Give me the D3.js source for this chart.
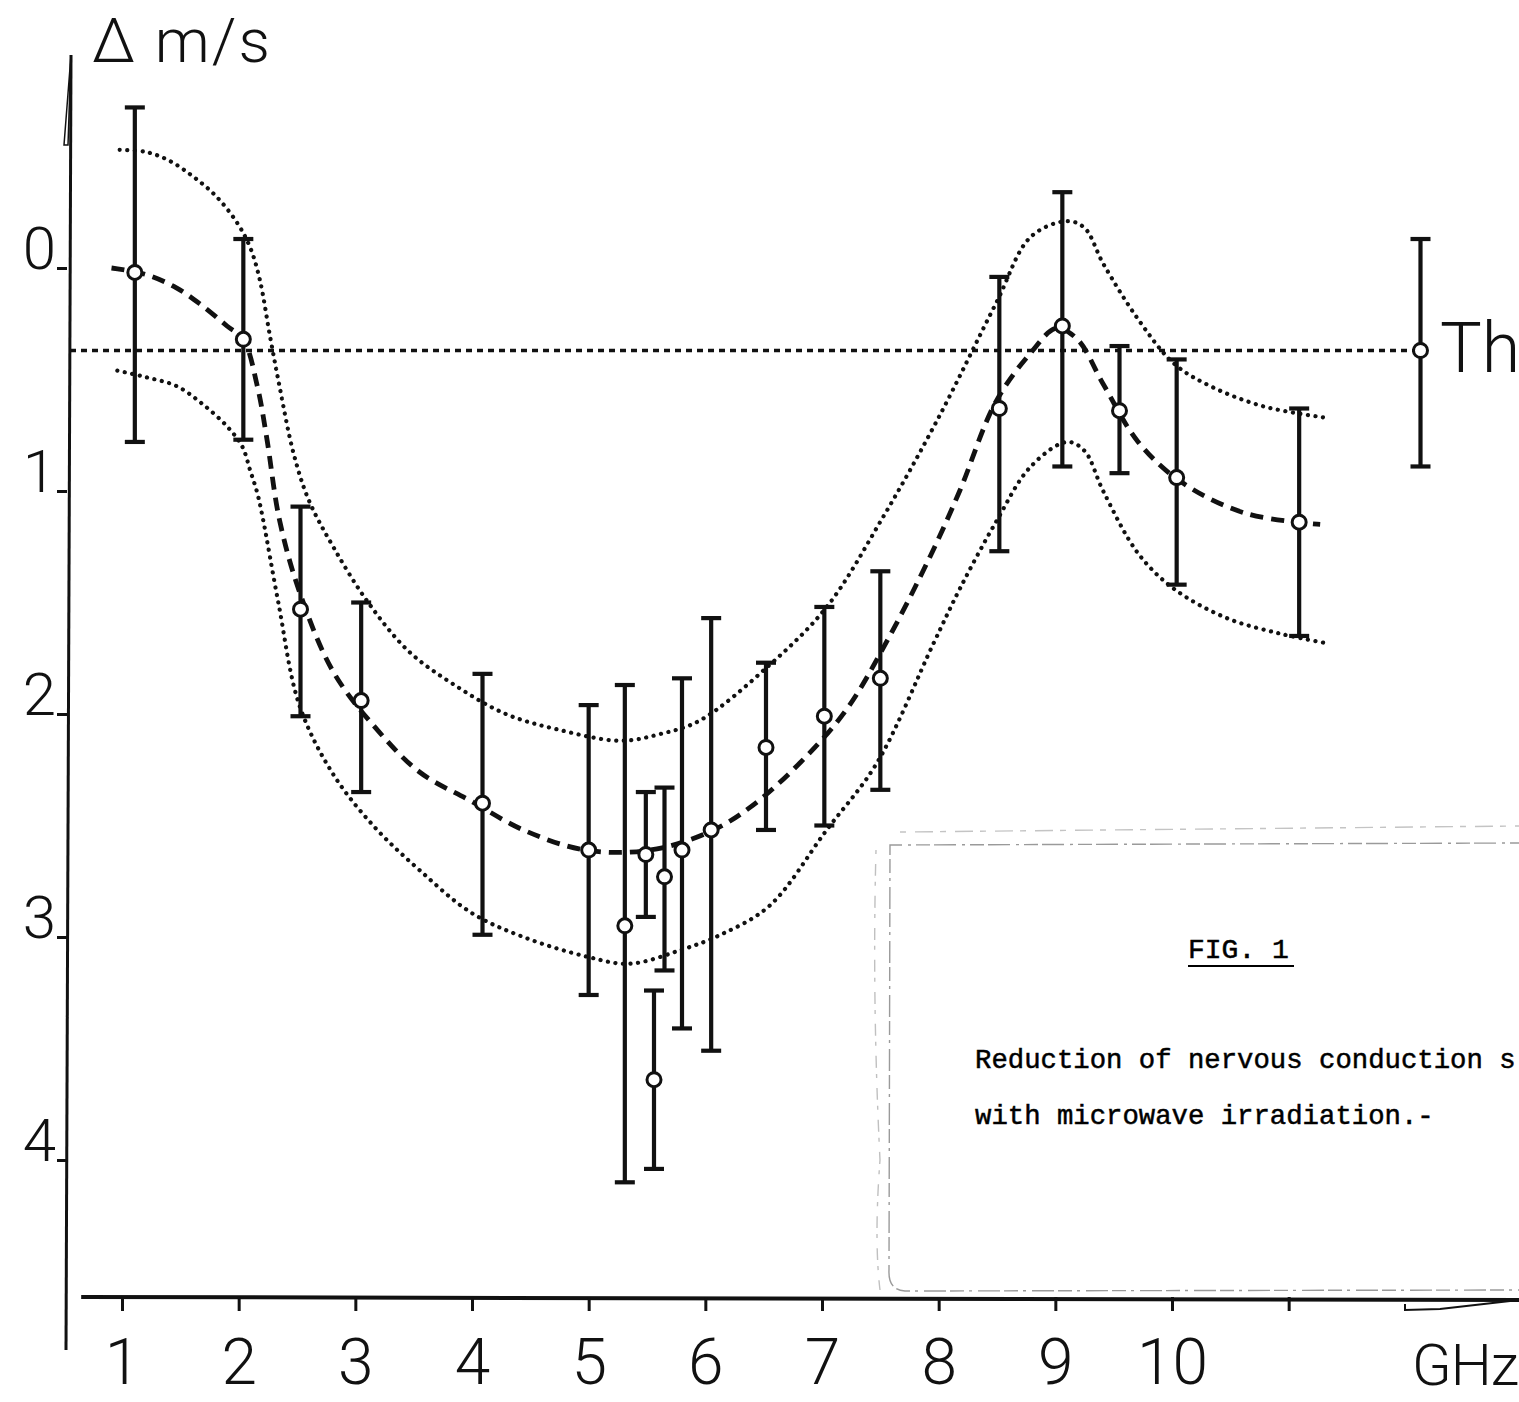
<!DOCTYPE html>
<html>
<head>
<meta charset="utf-8">
<script src="https://cdn.jsdelivr.net/npm/d3@7"></script>
<style>
  body { margin: 0; background: #fff; }
  svg { display: block; }
</style>
</head>
<body>
<div id="chart"></div>
<script>
const WIDTH = 1519
const HEIGHT = 1402

// measured points: frequency (GHz), mean change (m/s), bar ends
const freq = [1.11, 2.04, 2.53, 3.05, 4.09, 5.00, 5.31, 5.49, 5.56, 5.65, 5.80, 6.05, 6.52, 7.02, 7.50, 8.52, 9.06, 9.55, 10.04, 11.09]
const delta = [0.02, 0.32, 1.53, 1.94, 2.40, 2.61, 2.95, 2.63, 3.64, 2.73, 2.61, 2.52, 2.15, 2.01, 1.84, 0.63, 0.26, 0.64, 0.94, 1.14]
const errTop = [-0.72, -0.13, 1.07, 1.50, 1.82, 1.96, 1.87, 2.35, 3.24, 2.33, 1.84, 1.57, 1.77, 1.52, 1.36, 0.04, -0.34, 0.35, 0.41, 0.63]
const errBottom = [0.78, 0.77, 2.01, 2.35, 2.99, 3.26, 4.10, 2.91, 4.04, 3.15, 3.41, 3.51, 2.52, 2.50, 2.34, 1.27, 0.89, 0.92, 1.42, 1.65]

// threshold point and level
const thFreq = 12.13
const thDelta = 0.37
const thTop = -0.13
const thBottom = 0.89
const thLevel = 0.37

// hand drawn curves
const meanCurveX = [0.91, 1.21, 1.47, 1.69, 1.90, 2.04, 2.16, 2.24, 2.35, 2.52, 2.81, 3.17, 3.55, 3.99, 4.44, 4.97, 5.53, 6.03, 6.38, 6.81, 7.21, 7.56, 7.93, 8.18, 8.49, 8.79, 9.01, 9.19, 9.41, 9.71, 10.08, 10.63, 11.27]
const meanCurveY = [0.00, 0.03, 0.09, 0.17, 0.26, 0.32, 0.53, 0.76, 1.13, 1.45, 1.81, 2.06, 2.26, 2.39, 2.52, 2.61, 2.61, 2.53, 2.42, 2.22, 1.98, 1.67, 1.29, 1.00, 0.60, 0.38, 0.27, 0.32, 0.52, 0.78, 0.96, 1.10, 1.15]

const upperCurveX = [0.98, 1.21, 1.41, 1.61, 1.81, 1.99, 2.10, 2.18, 2.27, 2.35, 2.47, 2.60, 2.81, 3.11, 3.46, 3.85, 4.29, 4.74, 5.27, 5.61, 5.95, 6.53, 7.04, 7.52, 7.99, 8.49, 8.79, 9.10, 9.25, 9.41, 9.71, 10.02, 10.33, 10.78, 11.30]
const upperCurveY = [-0.53, -0.52, -0.48, -0.41, -0.32, -0.20, -0.09, 0.05, 0.31, 0.53, 0.83, 1.04, 1.25, 1.50, 1.72, 1.87, 2.00, 2.07, 2.12, 2.09, 2.03, 1.79, 1.52, 1.12, 0.68, 0.16, -0.14, -0.21, -0.18, -0.02, 0.23, 0.43, 0.53, 0.62, 0.67]

const lowerCurveX = [0.96, 1.21, 1.47, 1.69, 1.90, 2.03, 2.10, 2.16, 2.21, 2.34, 2.52, 2.81, 3.17, 3.55, 3.99, 4.44, 5.00, 5.35, 5.78, 6.13, 6.55, 7.04, 7.47, 7.95, 8.18, 8.49, 8.79, 9.10, 9.25, 9.41, 9.71, 10.02, 10.47, 10.93, 11.30]
const lowerCurveY = [0.46, 0.49, 0.53, 0.61, 0.71, 0.80, 0.91, 1.01, 1.13, 1.50, 1.96, 2.27, 2.51, 2.70, 2.89, 3.00, 3.09, 3.12, 3.06, 2.99, 2.86, 2.52, 2.22, 1.69, 1.44, 1.14, 0.89, 0.78, 0.82, 1.00, 1.28, 1.44, 1.57, 1.64, 1.68]

// axes
const xTicks = [1, 2, 3, 4, 5, 6, 7, 8, 9, 10, 11]
const xTickLabels = ['1', '2', '3', '4', '5', '6', '7', '8', '9', '10', '']
const yTicks = [0, 1, 2, 3, 4]

const captionTitle = 'FIG. 1'
const captionLines = ['Reduction of nervous conduction s', 'with microwave irradiation.-']

const INK = '#111'
const LABEL_FONT = 'Roboto, "DejaVu Sans", sans-serif'
const TYPE_FONT = '"Liberation Mono", "DejaVu Sans Mono", monospace'

const chart = () => {
    const svg = d3.select('#chart')
        .append('svg')
        .attr('width', WIDTH)
        .attr('height', HEIGHT)
        .style('background', '#fff')

    const xScale = d3.scaleLinear().domain([1, 10]).range([122, 1172])
    const yScale = d3.scaleLinear().domain([0, 4]).range([268, 1160])

    const axisY = 1297
    const axisX = 67

    // pasted caption slip
    const slip = svg.append('g')
        .attr('fill', 'none')
        .attr('stroke', '#9a9a9a')
        .attr('stroke-width', 1.4)
    slip.append('path')
        .attr('d', `M${WIDTH + 5},843 L890,845 L889,1270 Q888,1290 905,1291 L${WIDTH + 5},1290`)
        .attr('stroke-dasharray', '14 5 3 6 22 4')
    slip.append('path')
        .attr('d', `M900,832 L${WIDTH},826`)
        .attr('stroke', '#c4c4c4')
        .attr('stroke-dasharray', '6 9 18 7')
    slip.append('path')
        .attr('d', `M876,850 Q872,1000 880,1160 Q874,1240 880,1290`)
        .attr('stroke', '#c0c0c0')
        .attr('stroke-dasharray', '4 10 12 6')
    slip.append('path')
        .attr('d', `M1405,1304 L1405,1310 L1440,1309 L${WIDTH},1300`)
        .attr('stroke', INK)
        .attr('stroke-width', 2)

    const caption = svg.append('g')
        .attr('font-family', TYPE_FONT)
        .attr('fill', '#000')
        .attr('stroke', '#000')
        .attr('stroke-width', 0.5)
    caption.append('text')
        .attr('x', 1188)
        .attr('y', 958)
        .attr('font-size', 28)
        .text(captionTitle)
    caption.append('line')
        .attr('x1', 1188)
        .attr('x2', 1294)
        .attr('y1', 966)
        .attr('y2', 966)
        .attr('stroke-width', 1.8)
    caption.selectAll('.capline')
        .data(captionLines)
        .join('text')
        .attr('class', 'capline')
        .attr('x', 975)
        .attr('y', (d, i) => 1068 + i * 56)
        .attr('font-size', 27.3)
        .text(d => d)

    // x axis
    svg.append('line')
        .attr('x1', xScale(0.65))
        .attr('x2', WIDTH)
        .attr('y1', axisY)
        .attr('y2', axisY + 3)
        .attr('stroke', INK)
        .attr('stroke-width', 4)

    const xAxis = svg.append('g')
        .attr('transform', `translate(0, ${axisY})`)
        .call(d3.axisBottom(xScale)
            .tickValues(xTicks)
            .tickFormat((d, i) => xTickLabels[i])
            .tickSize(14)
            .tickPadding(28))
    xAxis.select('.domain').remove()
    xAxis.selectAll('.tick line')
        .attr('stroke', INK)
        .attr('stroke-width', 3)
    xAxis.selectAll('.tick text')
        .attr('fill', INK)
        .attr('font-family', LABEL_FONT)
        .attr('font-weight', 300)
        .attr('font-size', 64)

    svg.append('text')
        .attr('x', 1412)
        .attr('y', 1385)
        .attr('fill', INK)
        .attr('font-family', LABEL_FONT)
        .attr('font-weight', 300)
        .attr('font-size', 58)
        .attr('letter-spacing', -1)
        .text('GHz')

    // y axis
    svg.append('line')
        .attr('x1', axisX + 4)
        .attr('x2', axisX - 1)
        .attr('y1', 55)
        .attr('y2', 1350)
        .attr('stroke', INK)
        .attr('stroke-width', 3)
    svg.append('path')
        .attr('d', `M${axisX + 4},55 L${axisX + 1},145 L${axisX - 3},145 Z`)
        .attr('fill', 'none')
        .attr('stroke', INK)
        .attr('stroke-width', 1.5)

    const yAxis = svg.append('g')
        .attr('transform', `translate(${axisX}, 0)`)
        .call(d3.axisLeft(yScale)
            .tickValues(yTicks)
            .tickFormat(d3.format('d'))
            .tickSize(10)
            .tickPadding(1))
    yAxis.select('.domain').remove()
    yAxis.selectAll('.tick line')
        .attr('stroke', INK)
        .attr('stroke-width', 3)
    yAxis.selectAll('.tick text')
        .attr('fill', INK)
        .attr('dy', '0')
        .attr('font-family', LABEL_FONT)
        .attr('font-weight', 300)
        .attr('font-size', 60)

    svg.append('text')
        .attr('x', 92)
        .attr('y', 62)
        .attr('fill', INK)
        .attr('font-family', LABEL_FONT)
        .attr('font-weight', 300)
        .attr('font-size', 62)
        .attr('textLength', 178)
        .attr('lengthAdjust', 'spacing')
        .text('\u0394 m/s')

    // threshold level
    svg.append('line')
        .attr('x1', axisX + 3)
        .attr('x2', xScale(thFreq))
        .attr('y1', yScale(thLevel))
        .attr('y2', yScale(thLevel))
        .attr('stroke', INK)
        .attr('stroke-width', 3.5)
        .attr('stroke-dasharray', '6 5')

    svg.append('text')
        .attr('x', 1440)
        .attr('y', 372)
        .attr('fill', INK)
        .attr('font-family', LABEL_FONT)
        .attr('font-weight', 300)
        .attr('font-size', 70)
        .text('Th')

    // curves
    const line = d3.line()
        .x(d => xScale(d[0]))
        .y(d => yScale(d[1]))
        .curve(d3.curveCatmullRom.alpha(0.5))

    const curves = [
        { pts: d3.zip(upperCurveX, upperCurveY), dash: '0.1 7.5', w: 4.2, cap: 'round' },
        { pts: d3.zip(lowerCurveX, lowerCurveY), dash: '0.1 7.5', w: 4.2, cap: 'round' },
        { pts: d3.zip(meanCurveX, meanCurveY), dash: '13 8', w: 4.8, cap: 'butt' }
    ]
    svg.selectAll('.curve')
        .data(curves)
        .join('path')
        .attr('class', 'curve')
        .attr('d', d => line(d.pts))
        .attr('fill', 'none')
        .attr('stroke', INK)
        .attr('stroke-width', d => d.w)
        .attr('stroke-dasharray', d => d.dash)
        .attr('stroke-linecap', d => d.cap)

    // error bars
    const points = freq.map((f, i) => ({ f, m: delta[i], top: errTop[i], bottom: errBottom[i] }))
    points.push({ f: thFreq, m: thDelta, top: thTop, bottom: thBottom })

    const bars = svg.selectAll('.bar')
        .data(points)
        .join('g')
        .attr('class', 'bar')
        .attr('stroke', INK)
        .attr('stroke-width', 4.2)
    bars.append('line')
        .attr('x1', d => xScale(d.f))
        .attr('x2', d => xScale(d.f))
        .attr('y1', d => yScale(d.top))
        .attr('y2', d => yScale(d.bottom))
    bars.append('line')
        .attr('x1', d => xScale(d.f) - 10)
        .attr('x2', d => xScale(d.f) + 10)
        .attr('y1', d => yScale(d.top))
        .attr('y2', d => yScale(d.top))
    bars.append('line')
        .attr('x1', d => xScale(d.f) - 10)
        .attr('x2', d => xScale(d.f) + 10)
        .attr('y1', d => yScale(d.bottom))
        .attr('y2', d => yScale(d.bottom))
    bars.append('circle')
        .attr('cx', d => xScale(d.f))
        .attr('cy', d => yScale(d.m))
        .attr('r', 7)
        .attr('fill', '#fff')
        .attr('stroke-width', 3)
}

chart()
</script>
</body>
</html>
